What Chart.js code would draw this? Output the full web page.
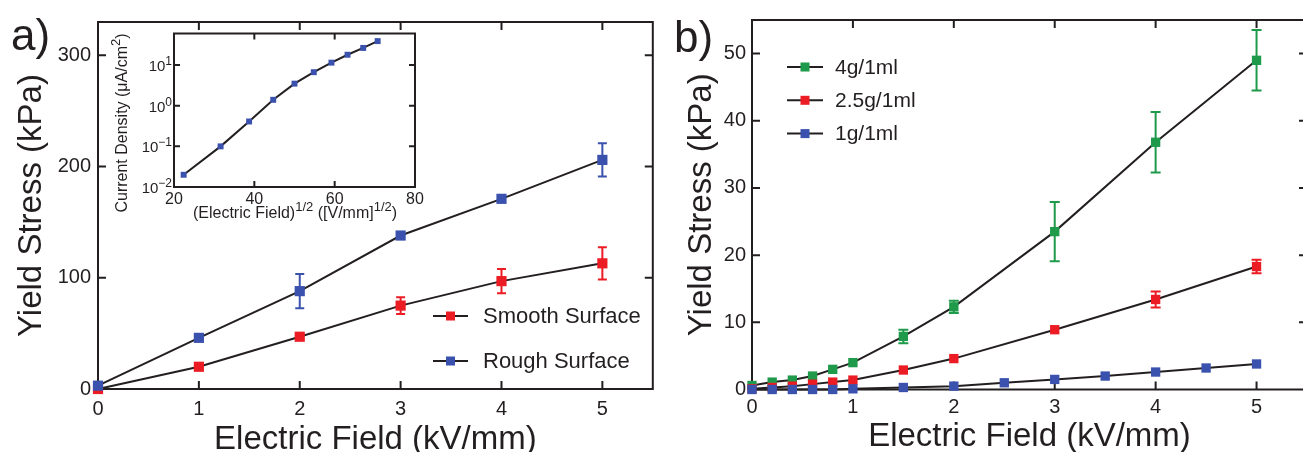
<!DOCTYPE html>
<html>
<head>
<meta charset="utf-8">
<script src="https://cdn.jsdelivr.net/npm/chart.js@4"></script>
<style>
  body { margin: 0; background: #fff; width: 1303px; height: 452px; overflow: hidden; position: relative; }
  canvas { position: absolute; }
  #chartA { left: 0; top: 0; }
  #inset { left: 100px; top: 20px; }
  #chartB { left: 660px; top: 0; }
</style>
</head>
<body>
<canvas id="chartA" width="660" height="452"></canvas>
<canvas id="inset" width="330" height="210"></canvas>
<canvas id="chartB" width="660" height="452"></canvas>
<script>
const INK = "#231f20";
const FONT = '"Liberation Sans", Arial, Helvetica, sans-serif';
const RED = "#ec1c24";
const BLUE = "#3a51ad";
const GREEN = "#1f9a4a";

// a) yield stress vs field, two surfaces
const fieldA = [0, 1, 2, 3, 4, 5];
const roughStress = [3, 46, 88, 138, 171, 206];
const roughErr = [0, 0, 15.5, 0, 0, 15];
const smoothStress = [0, 20, 47, 75, 97, 113];
const smoothErr = [0, 0, 0, 7.5, 11, 14.5];

// inset: current density vs sqrt(field)
const sqrtField = [22.4, 31.6, 38.7, 44.7, 50.0, 54.8, 59.2, 63.2, 67.1, 70.7];
const currentDensity = [0.02, 0.1, 0.41, 1.4, 3.5, 6.7, 11.5, 18, 26.5, 39];
const densityTicks = [0.01, 0.1, 1, 10];
const densityExponents = ["\u22122", "\u22121", "0", "1"];

// b) yield stress vs field, three loadings
const fieldB = [0, 0.2, 0.4, 0.6, 0.8, 1, 1.5, 2, 3, 4, 5];
const fieldB1 = [0, 0.2, 0.4, 0.6, 0.8, 1, 1.5, 2, 2.5, 3, 3.5, 4, 4.5, 5];
const stress4g = [0.6, 1.1, 1.4, 2.0, 3.0, 4.0, 7.9, 12.3, 23.5, 36.8, 49.0];
const err4g = [0, 0, 0, 0, 0, 0, 1.0, 0.9, 4.4, 4.5, 4.5];
const stress25g = [0.1, 0.3, 0.5, 0.8, 1.1, 1.4, 2.9, 4.6, 8.9, 13.4, 18.3];
const err25g = [0, 0, 0, 0, 0, 0, 0, 0, 0, 1.2, 1.0];
const stress1g = [0, 0, 0, 0, 0, 0.1, 0.3, 0.5, 1.0, 1.5, 2.0, 2.6, 3.2, 3.8];

function series(label, xs, ys, errs, color, r) {
  return {
    label,
    data: xs.map((x, i) => ({ x, y: ys[i] })),
    errors: errs,
    borderColor: INK,
    borderWidth: 2,
    pointStyle: "rect",
    pointRadius: r,
    pointBorderWidth: 0,
    pointBackgroundColor: color,
    pointBorderColor: color,
    tension: 0,
    clip: false,
  };
}

// closed frame with inward ticks on all four sides, plus error bars
const boxAxes = {
  id: "boxAxes",
  beforeDatasetsDraw(chart, args, opts) {
    const { ctx, chartArea: a } = chart;
    const x = chart.scales.x, y = chart.scales.y;
    ctx.save();
    ctx.strokeStyle = INK;
    ctx.lineWidth = opts.lineWidth;
    ctx.strokeRect(a.left, a.top, a.right - a.left, a.bottom - a.top);
    ctx.beginPath();
    x.ticks.forEach((t) => {
      if (t.value <= x.min || t.value >= x.max) return;
      const px = x.getPixelForValue(t.value);
      ctx.moveTo(px, a.bottom); ctx.lineTo(px, a.bottom - opts.tick);
      ctx.moveTo(px, a.top); ctx.lineTo(px, a.top + opts.tick);
    });
    y.ticks.forEach((t) => {
      if (t.value <= y.min || t.value >= y.max) return;
      const py = y.getPixelForValue(t.value);
      ctx.moveTo(a.left, py); ctx.lineTo(a.left + opts.tick, py);
      ctx.moveTo(a.right, py); ctx.lineTo(a.right - opts.tick, py);
    });
    ctx.stroke();

    chart.data.datasets.forEach((ds) => {
      if (!ds.errors) return;
      ctx.strokeStyle = ds.pointBackgroundColor;
      ctx.lineWidth = 2;
      const c = opts.cap / 2;
      ds.data.forEach((p, i) => {
        const e = ds.errors[i];
        if (!e) return;
        const px = x.getPixelForValue(p.x);
        const hi = y.getPixelForValue(p.y + e);
        const lo = y.getPixelForValue(p.y - e);
        ctx.beginPath();
        ctx.moveTo(px, hi); ctx.lineTo(px, lo);
        ctx.moveTo(px - c, hi); ctx.lineTo(px + c, hi);
        ctx.moveTo(px - c, lo); ctx.lineTo(px + c, lo);
        ctx.stroke();
      });
    });
    ctx.restore();
  },
};

// legend inside the plot + panel letter
const keyBox = {
  id: "keyBox",
  afterDraw(chart, args, opts) {
    const { ctx } = chart;
    ctx.save();
    if (opts.items) {
      const items = chart.data.datasets.slice().reverse();
      items.forEach((ds, i) => {
        const yy = opts.y + i * opts.gap;
        ctx.strokeStyle = INK;
        ctx.lineWidth = 2;
        ctx.beginPath();
        ctx.moveTo(opts.x, yy);
        ctx.lineTo(opts.x + opts.line, yy);
        ctx.stroke();
        ctx.fillStyle = ds.pointBackgroundColor;
        ctx.fillRect(opts.x + opts.line / 2 - opts.mark / 2, yy - opts.mark / 2, opts.mark, opts.mark);
        ctx.fillStyle = INK;
        ctx.font = `${opts.size}px ${FONT}`;
        ctx.textBaseline = "middle";
        ctx.fillText(ds.label, opts.x + opts.textGap, yy + 1);
      });
    }
    if (opts.tag) {
      ctx.fillStyle = INK;
      ctx.font = `44px ${FONT}`;
      ctx.textBaseline = "alphabetic";
      ctx.fillText(opts.tag, opts.tagX, opts.tagY);
    }
    ctx.restore();
  },
};

// text runs with raised exponents; align 0 = centred, 1 = right
function drawRuns(ctx, runs, cx, cy, align = 0) {
  let total = 0;
  runs.forEach((r) => { ctx.font = `${r.size}px ${FONT}`; r.w = ctx.measureText(r.t).width; total += r.w; });
  let xx = align ? cx - total : cx - total / 2;
  runs.forEach((r) => {
    ctx.font = `${r.size}px ${FONT}`;
    ctx.fillText(r.t, xx, cy - (r.up || 0));
    xx += r.w;
  });
}

// inset decade labels and axis titles
const insetText = {
  id: "insetText",
  afterDraw(chart) {
    const { ctx, chartArea: a } = chart;
    const y = chart.scales.y;
    ctx.save();
    ctx.fillStyle = INK;
    ctx.textBaseline = "alphabetic";
    y.ticks.forEach((t, i) => {
      const py = y.getPixelForValue(t.value);
      drawRuns(ctx, [
        { t: "10", size: 15 },
        { t: densityExponents[i], size: 12, up: 6 },
      ], a.left - 2, py + 6, 1);
    });
    drawRuns(ctx, [
      { t: "(Electric Field)", size: 16 },
      { t: "1/2", size: 13, up: 7 },
      { t: " ([V/mm]", size: 16 },
      { t: "1/2", size: 13, up: 7 },
      { t: ")", size: 16 },
    ], 195, 198);
    ctx.translate(27, 103);
    ctx.rotate(-Math.PI / 2);
    drawRuns(ctx, [
      { t: "Current Density (\u03BCA/cm", size: 16 },
      { t: "2", size: 13, up: 7 },
      { t: ")", size: 16 },
    ], 0, 0);
    ctx.restore();
  },
};

const tickFont = { family: FONT, size: 20 };
const titleFont = { family: FONT, size: 33, lineHeight: 1 };

new Chart(document.getElementById("chartA"), {
  type: "line",
  data: {
    datasets: [
      series("Rough Surface", fieldA, roughStress, roughErr, BLUE, 7.2),
      series("Smooth Surface", fieldA, smoothStress, smoothErr, RED, 7.2),
    ],
  },
  options: {
    responsive: false,
    animation: false,
    events: [],
    layout: { padding: { top: 22, right: 6, left: 0, bottom: 0 } },
    plugins: {
      legend: { display: false },
      tooltip: { enabled: false },
      boxAxes: { lineWidth: 2, tick: 8, cap: 9 },
      keyBox: { items: true, x: 433, y: 316, gap: 45, line: 35, mark: 9, textGap: 50, size: 22, tag: "a)", tagX: 11, tagY: 50 },
    },
    scales: {
      x: {
        type: "linear", min: 0, max: 5.5,
        afterFit: (s) => { s.height = 63; },
        grid: { display: false, drawTicks: false },
        border: { display: false },
        ticks: { stepSize: 1, includeBounds: false, padding: 8, font: tickFont, color: INK, maxRotation: 0 },
        title: { display: true, text: "Electric Field (kV/mm)", font: titleFont, color: INK, padding: { top: 0, bottom: -4 } },
      },
      y: {
        min: 0, max: 330,
        afterFit: (s) => { s.width = 98; },
        grid: { display: false, drawTicks: false },
        border: { display: false },
        ticks: { stepSize: 100, includeBounds: false, padding: 7, font: tickFont, color: INK },
        title: { display: true, text: "Yield Stress (kPa)", font: titleFont, color: INK, padding: { top: 15, bottom: 0 } },
      },
    },
  },
  plugins: [boxAxes, keyBox],
});

new Chart(document.getElementById("inset"), {
  type: "line",
  data: {
    datasets: [series("Current Density", sqrtField, currentDensity, null, BLUE, 4.2)],
  },
  options: {
    responsive: false,
    animation: false,
    events: [],
    layout: { padding: { top: 13.5, right: 15, left: 0, bottom: 0 } },
    plugins: {
      legend: { display: false },
      tooltip: { enabled: false },
      boxAxes: { lineWidth: 2, tick: 6, cap: 0 },
    },
    scales: {
      x: {
        type: "linear", min: 20, max: 80,
        afterFit: (s) => { s.height = 43; },
        grid: { display: false, drawTicks: false },
        border: { display: false },
        ticks: { stepSize: 20, padding: 3, font: { family: FONT, size: 16 }, color: INK, maxRotation: 0 },
      },
      y: {
        type: "logarithmic", min: 0.01, max: 60,
        afterFit: (s) => { s.width = 74; },
        afterBuildTicks: (s) => { s.ticks = densityTicks.map((v) => ({ value: v })); },
        grid: { display: false, drawTicks: false },
        border: { display: false },
        ticks: { display: false },
      },
    },
  },
  plugins: [boxAxes, insetText],
});

new Chart(document.getElementById("chartB"), {
  type: "line",
  data: {
    datasets: [
      series("1g/1ml", fieldB1, stress1g, null, BLUE, 6.6),
      series("2.5g/1ml", fieldB, stress25g, err25g, RED, 6.6),
      series("4g/1ml", fieldB, stress4g, err4g, GREEN, 6.6),
    ],
  },
  options: {
    responsive: false,
    animation: false,
    events: [],
    layout: { padding: { top: 20, right: 13, left: 0, bottom: 0 } },
    plugins: {
      legend: { display: false },
      tooltip: { enabled: false },
      boxAxes: { lineWidth: 2, tick: 8, cap: 10 },
      keyBox: { items: true, x: 127, y: 67, gap: 33.3, line: 36, mark: 9, textGap: 48, size: 21, tag: "b)", tagX: 14, tagY: 52 },
    },
    scales: {
      x: {
        type: "linear", min: 0, max: 5.5,
        afterFit: (s) => { s.height = 62.5; },
        grid: { display: false, drawTicks: false },
        border: { display: false },
        ticks: { stepSize: 1, includeBounds: false, padding: 6, font: tickFont, color: INK, maxRotation: 0 },
        title: { display: true, text: "Electric Field (kV/mm)", font: titleFont, color: INK, padding: { top: 0, bottom: -1 } },
      },
      y: {
        min: 0, max: 55,
        afterFit: (s) => { s.width = 92; },
        grid: { display: false, drawTicks: false },
        border: { display: false },
        ticks: { stepSize: 10, includeBounds: false, padding: 6, font: tickFont, color: INK },
        title: { display: true, text: "Yield Stress (kPa)", font: titleFont, color: INK, padding: { top: 25, bottom: 0 } },
      },
    },
  },
  plugins: [boxAxes, keyBox],
});
</script>
</body>
</html>
